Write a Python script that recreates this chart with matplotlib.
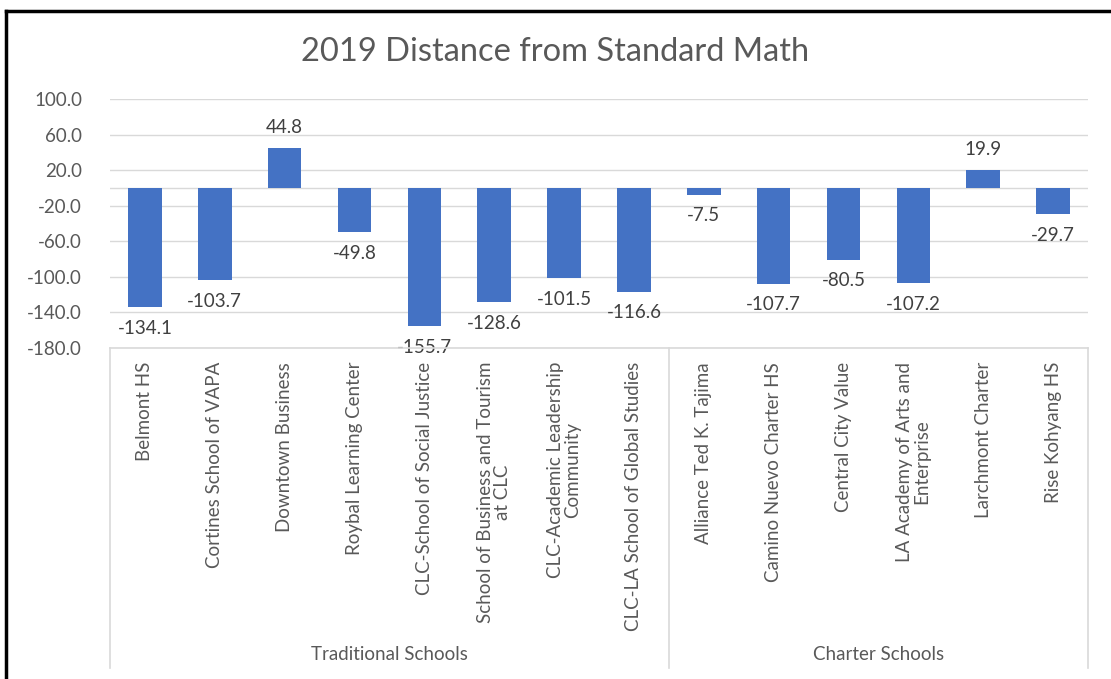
import matplotlib
matplotlib.use("Agg")
import matplotlib.pyplot as plt
import matplotlib.transforms as mtransforms
from matplotlib.lines import Line2D

plt.rcParams['font.family'] = ['Lato', 'DejaVu Sans']

schools = ['Belmont HS', 'Cortines School of VAPA', 'Downtown Business',
           'Roybal Learning Center', 'CLC-School of Social Justice',
           'School of Business and Tourism\nat CLC',
           'CLC-Academic Leadership\nCommunity', 'CLC-LA School of Global Studies',
           'Alliance Ted K. Tajima', 'Camino Nuevo Charter HS',
           'Central City Value', 'LA Academy of Arts and\nEnterprise',
           'Larchmont Charter', 'Rise Kohyang HS']
scores = [-134.1, -103.7, 44.8, -49.8, -155.7, -128.6, -101.5, -116.6,
          -7.5, -107.7, -80.5, -107.2, 19.9, -29.7]
groups = ['Traditional Schools', 'Charter Schools']
group_sizes = [8, 6]
yticks = [100, 60, 20, -20, -60, -100, -140, -180]

text_col = '#595959'
grid_col = '#d9d9d9'
bar_col = '#4472C4'

fig = plt.figure(figsize=(11.11, 6.79), dpi=100)
ax = fig.add_axes([110/1111, 1 - 348/679, (1088 - 110)/1111, (348 - 99)/679])

x = list(range(len(schools)))
ax.bar(x, scores, width=0.48, color=bar_col, zorder=3)

ax.set_xlim(-0.5, len(schools) - 0.5)
ax.set_ylim(-180, 100)
ax.set_yticks(yticks)
ax.set_yticklabels([f'{v:.1f}' for v in yticks], color=text_col, fontsize=13.5)
ax.tick_params(axis='y', length=0, pad=20)
ax.yaxis.grid(True, color=grid_col, linewidth=1, zorder=0)
ax.axhline(0, color=grid_col, linewidth=1, zorder=1)
for s in ax.spines.values():
    s.set_visible(False)

ax.set_xticks(x)
ax.set_xticklabels(schools, rotation=90, ha='center', va='top',
                   multialignment='center', color=text_col, fontsize=13.5,
                   linespacing=1.0)
ax.tick_params(axis='x', length=0, pad=10)

# data labels
for xi, v in zip(x, scores):
    if v < 0:
        ax.annotate(f'{v:.1f}', (xi, v), xytext=(0, -9), textcoords='offset points',
                    ha='center', va='top', color='#404040', fontsize=13.5)
    else:
        ax.annotate(f'{v:.1f}', (xi, v), xytext=(0, 9), textcoords='offset points',
                    ha='center', va='bottom', color='#404040', fontsize=13.5)

# group box below the axis
trans = mtransforms.blended_transform_factory(ax.transData, fig.transFigure)
y_top = 1 - 348/679
y_bot = 1 - 668/679
edges = [-0.5]
for n in group_sizes:
    edges.append(edges[-1] + n)
for e in edges:
    fig.add_artist(Line2D([e, e], [y_bot, y_top], transform=trans,
                          color=grid_col, linewidth=1.2))
fig.add_artist(Line2D([-0.5, edges[-1]], [y_top, y_top], transform=trans,
                      color=grid_col, linewidth=1.2))
for g, a, b in zip(groups, edges[:-1], edges[1:]):
    fig.text((a + b) / 2, 1 - 655/679, g, transform=trans, ha='center', va='center',
             color=text_col, fontsize=13.5)

fig.text(0.5, 1 - 52/679, '2019 Distance from Standard Math', ha='center',
         va='center', color=text_col, fontsize=23.5)

# black frame of the screenshot
fig.add_artist(Line2D([6/1111, 1.0], [1 - 11/679, 1 - 11/679],
                      transform=fig.transFigure, color='black', linewidth=2.5))
fig.add_artist(Line2D([6/1111, 6/1111], [0, 1 - 11/679],
                      transform=fig.transFigure, color='black', linewidth=2.5))

fig.savefig('out.png', dpi=100)
